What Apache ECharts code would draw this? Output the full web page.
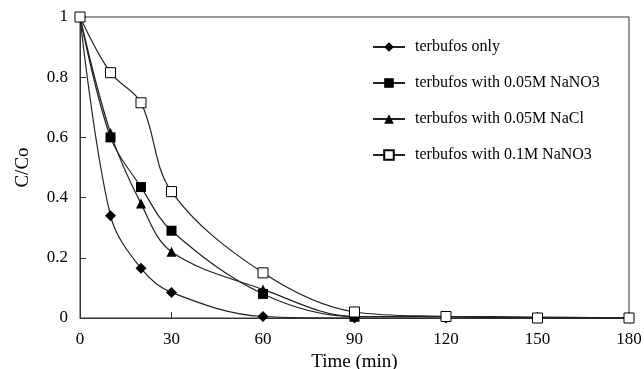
<!DOCTYPE html>
<html>
<head>
<meta charset="utf-8">
<script src="https://cdn.jsdelivr.net/npm/echarts@6/dist/echarts.min.js"></script>
<style>
  html, body { margin: 0; padding: 0; background: #fff; }
  #chart { width: 644px; height: 369px; }
</style>
</head>
<body>
<div id="chart"></div>
<script>
// 时间点 (min)
const times = [0, 10, 20, 30, 60, 90, 120, 150, 180]
const seriesNames = [
  'terbufos only',
  'terbufos with 0.05M NaNO3',
  'terbufos with 0.05M NaCl',
  'terbufos with 0.1M NaNO3'
]
// C/Co 值
const onlyValues = [1, 0.34, 0.165, 0.085, 0.005, 0, 0, 0, 0]
const nano3LowValues = [1, 0.6, 0.435, 0.29, 0.08, 0.005, 0.005, 0, 0]
const naclValues = [1, 0.615, 0.38, 0.22, 0.095, 0.005, 0.005, 0.003, 0]
const nano3HighValues = [1, 0.815, 0.715, 0.42, 0.15, 0.02, 0.005, 0, 0]

const font = 'Liberation Serif'
const chart = echarts.init(document.getElementById('chart'))

const makeSeries = (name, values, symbol, filled) => ({
  name,
  type: 'line',
  smooth: 0.35,
  symbol,
  symbolSize: symbol === 'diamond' ? 11 : 10,
  data: times.map((t, i) => [t, values[i]]),
  lineStyle: { color: '#222', width: 1.2 },
  itemStyle: {
    color: filled ? '#000' : '#fff',
    borderColor: '#000',
    borderWidth: filled ? 0 : 1
  },
  emphasis: { disabled: true }
})

const option = {
  animation: false,
  grid: {
    left: 80,
    right: 15,
    top: 17,
    bottom: 51,
    containLabel: false,
    outerBoundsMode: 'none',
    show: true,
    borderColor: '#333',
    borderWidth: 1
  },
  legend: {
    orient: 'vertical',
    left: 367,
    top: 34,
    itemWidth: 32,
    itemHeight: 12,
    itemGap: 20,
    textStyle: { fontFamily: font, fontSize: 16, color: '#000', padding: [0, 0, 0, 5] },
    data: seriesNames
  },
  xAxis: {
    type: 'value',
    min: 0,
    max: 180,
    interval: 30,
    name: 'Time (min)',
    nameLocation: 'middle',
    nameGap: 32,
    nameTextStyle: { fontFamily: font, fontSize: 19, color: '#000' },
    axisLine: { lineStyle: { color: '#333' } },
    axisTick: { inside: true, length: 6, lineStyle: { color: '#333' } },
    axisLabel: { fontFamily: font, fontSize: 17, color: '#000', margin: 13 },
    splitLine: { show: false }
  },
  yAxis: {
    type: 'value',
    min: 0,
    max: 1,
    interval: 0.2,
    name: 'C/Co',
    nameLocation: 'middle',
    nameGap: 47,
    nameTextStyle: { fontFamily: font, fontSize: 19, color: '#000' },
    axisLine: { show: true, lineStyle: { color: '#333' } },
    axisTick: { show: true, inside: true, length: 6, lineStyle: { color: '#333' } },
    axisLabel: { fontFamily: font, fontSize: 17, color: '#000', margin: 12 },
    splitLine: { show: false }
  },
  series: [
    makeSeries(seriesNames[0], onlyValues, 'diamond', true),
    makeSeries(seriesNames[1], nano3LowValues, 'rect', true),
    makeSeries(seriesNames[2], naclValues, 'triangle', true),
    makeSeries(seriesNames[3], nano3HighValues, 'rect', false)
  ]
}

chart.setOption(option)
</script>
</body>
</html>
